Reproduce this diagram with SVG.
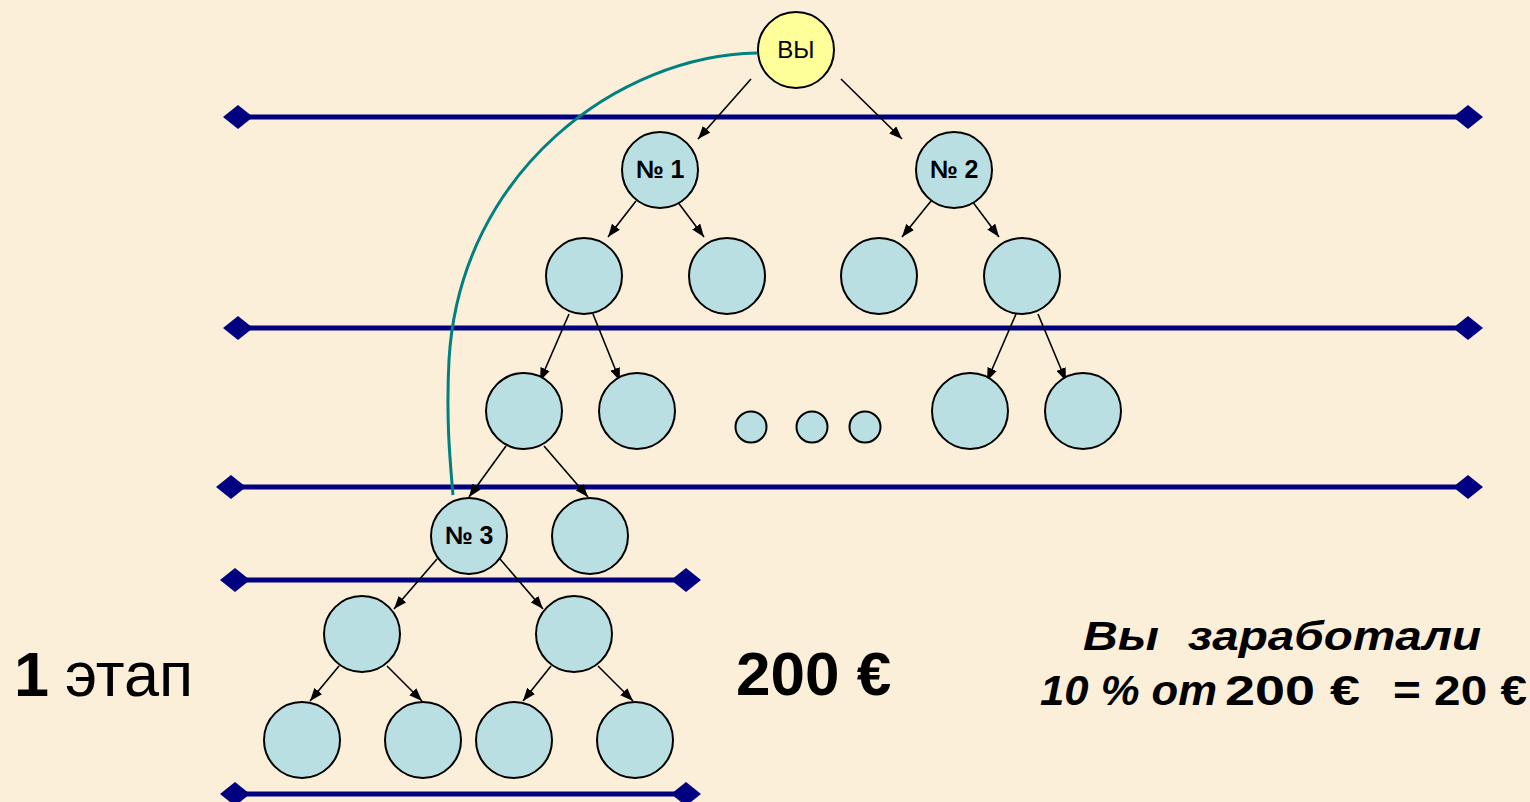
<svg xmlns="http://www.w3.org/2000/svg" width="1530" height="802" viewBox="0 0 1530 802">
<defs>
<marker id="dia" viewBox="0 0 30 24" refX="15" refY="12" markerWidth="30" markerHeight="24" markerUnits="userSpaceOnUse" orient="0">
<path d="M0,12 L15,0 L30,12 L15,24 Z" fill="#000080"/>
</marker>
<marker id="arr" viewBox="0 0 13 10" refX="13" refY="5" markerWidth="13" markerHeight="10" markerUnits="userSpaceOnUse" orient="auto">
<path d="M0,0 L13,5 L0,10 Z" fill="#000000"/>
</marker>
</defs>
<style>
.lvl{stroke:#000080;stroke-width:5;fill:none;marker-start:url(#dia);marker-end:url(#dia)}
.n{fill:#B9DFE3;stroke:#000;stroke-width:2}
.y{fill:#FFFF99;stroke:#000;stroke-width:2}
.c{stroke:#000;stroke-width:1.6;fill:none;marker-end:url(#arr)}
.t{font-family:"Liberation Sans",Arial,sans-serif;fill:#000}
.lb{font-size:25px;font-weight:bold;text-anchor:middle}
.r{font-weight:bold}
</style>
<rect x="0" y="0" width="1530" height="802" fill="#FCEFD9"/>

<g id="levels">
<line class="lvl" x1="238" y1="117" x2="1468" y2="117"/>
<line class="lvl" x1="238" y1="328" x2="1468" y2="328"/>
<line class="lvl" x1="231" y1="487" x2="1468" y2="487"/>
<line class="lvl" x1="235" y1="580" x2="686" y2="580"/>
<line class="lvl" x1="235" y1="794" x2="686" y2="794"/>
</g>

<g id="connectors">
<path d="M757,53 C620,55 460,170 449,360 C446,420 450,460 453,495" fill="none" stroke="#008080" stroke-width="3"/>
<line class="c" x1="751" y1="79" x2="698" y2="139"/>
<line class="c" x1="841" y1="79" x2="902" y2="139"/>
<line class="c" x1="636" y1="201" x2="608" y2="237"/>
<line class="c" x1="677" y1="201" x2="704" y2="237"/>
<line class="c" x1="931" y1="201" x2="902" y2="237"/>
<line class="c" x1="972" y1="201" x2="999" y2="237"/>
<line class="c" x1="569" y1="314" x2="540" y2="381"/>
<line class="c" x1="593" y1="314" x2="620" y2="381"/>
<line class="c" x1="1016" y1="314" x2="987" y2="381"/>
<line class="c" x1="1038" y1="314" x2="1066" y2="381"/>
<line class="c" x1="506" y1="446" x2="469" y2="497"/>
<line class="c" x1="544" y1="446" x2="588" y2="497"/>
<line class="c" x1="437" y1="559" x2="394" y2="609"/>
<line class="c" x1="500" y1="559" x2="543" y2="609"/>
<line class="c" x1="339" y1="666" x2="310" y2="701"/>
<line class="c" x1="387" y1="666" x2="422" y2="701"/>
<line class="c" x1="551" y1="666" x2="523" y2="701"/>
<line class="c" x1="598" y1="666" x2="633" y2="701"/>
</g>

<g id="you"><circle class="y" cx="796" cy="50" r="38"/><text class="t" x="796" y="58" font-size="24" text-anchor="middle">ВЫ</text></g>
<g id="n1"><circle class="n" cx="660" cy="170" r="38"/><text class="t lb" x="660" y="178">№ 1</text></g>
<g id="n2"><circle class="n" cx="954" cy="170" r="38"/><text class="t lb" x="954" y="178">№ 2</text></g>
<g id="l2a"><circle class="n" cx="584" cy="276" r="38"/></g>
<g id="l2b"><circle class="n" cx="727" cy="276" r="38"/></g>
<g id="l2c"><circle class="n" cx="879" cy="276" r="38"/></g>
<g id="l2d"><circle class="n" cx="1022" cy="276" r="38"/></g>
<g id="l3a"><circle class="n" cx="524" cy="411" r="38"/></g>
<g id="l3b"><circle class="n" cx="637" cy="411" r="38"/></g>
<g id="dot1"><circle class="n" cx="751" cy="427" r="15.5"/></g>
<g id="dot2"><circle class="n" cx="812" cy="427" r="15.5"/></g>
<g id="dot3"><circle class="n" cx="865" cy="427" r="15.5"/></g>
<g id="l3c"><circle class="n" cx="970" cy="411" r="38"/></g>
<g id="l3d"><circle class="n" cx="1083" cy="411" r="38"/></g>
<g id="n3"><circle class="n" cx="469" cy="536" r="38"/><text class="t lb" x="469" y="544">№ 3</text></g>
<g id="l4b"><circle class="n" cx="590" cy="536" r="38"/></g>
<g id="l5a"><circle class="n" cx="362" cy="634" r="38"/></g>
<g id="l5b"><circle class="n" cx="574" cy="634" r="38"/></g>
<g id="l6a"><circle class="n" cx="302" cy="740" r="38"/></g>
<g id="l6b"><circle class="n" cx="423" cy="740" r="38"/></g>
<g id="l6c"><circle class="n" cx="514" cy="740" r="38"/></g>
<g id="l6d"><circle class="n" cx="635" cy="740" r="38"/></g>

<g id="labels">
<text class="t" x="14" y="696" font-size="63"><tspan font-weight="bold">1</tspan><tspan x="65">этап</tspan></text>
<text class="t" x="736" y="695" font-size="62" font-weight="bold">200 €</text>
<text class="t r" x="1083" y="650" font-size="41" font-style="italic" textLength="76" lengthAdjust="spacingAndGlyphs">Вы</text>
<text class="t r" x="1188" y="650" font-size="41" font-style="italic" textLength="293" lengthAdjust="spacingAndGlyphs">заработали</text>
<text class="t r" x="1040" y="705" font-size="42" font-style="italic" textLength="177" lengthAdjust="spacingAndGlyphs">10 % от</text>
<text class="t r" x="1225" y="705" font-size="42" textLength="135" lengthAdjust="spacingAndGlyphs">200 €</text>
<text class="t r" x="1393" y="705" font-size="42" textLength="134" lengthAdjust="spacingAndGlyphs">= 20 €</text>
</g>
</svg>
